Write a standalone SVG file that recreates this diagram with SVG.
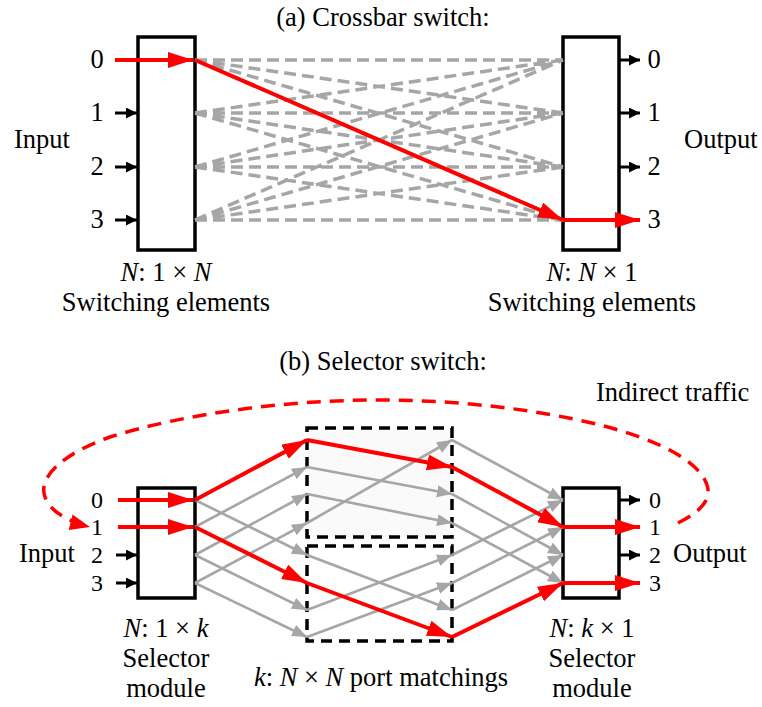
<svg xmlns="http://www.w3.org/2000/svg" width="762" height="707" viewBox="0 0 762 707">
<defs>
<style>
text{font-family:"Liberation Serif",Tinos,"Times New Roman","DejaVu Serif",serif;font-size:26.5px;fill:#000}
.c{text-anchor:middle}
.i{font-style:italic}
.p{font-size:24px}
.box{fill:#fff;stroke:#000;stroke-width:3.5}
.dbox{stroke:#000;stroke-width:3.5;stroke-dasharray:11 7}
.gd{stroke:#a6a6a6;stroke-width:3.5;stroke-dasharray:12 6;fill:none}
.g{stroke:#a6a6a6;stroke-width:2.6;fill:none;marker-end:url(#ag)}
.r{stroke:#f00;stroke-width:4;fill:none;marker-end:url(#ar)}
.k{stroke:#000;stroke-width:3;fill:none;marker-end:url(#ak)}
.rd{stroke:#f00;stroke-width:3.5;fill:none;stroke-dasharray:14 9;marker-end:url(#ar2)}
</style>
<marker id="ar" markerUnits="userSpaceOnUse" markerWidth="26" markerHeight="18" refX="25" refY="8" orient="auto"><path d="M0,0 L25,8 L0,16 z" fill="#f00"/></marker>
<marker id="ar2" markerUnits="userSpaceOnUse" markerWidth="24" markerHeight="18" refX="20" refY="8" orient="auto"><path d="M0,0 L20,8 L0,16 z" fill="#f00"/></marker>
<marker id="ag" markerUnits="userSpaceOnUse" markerWidth="17" markerHeight="13" refX="15" refY="6" orient="auto"><path d="M0,0 L15,6 L0,12 z" fill="#a6a6a6"/></marker>
<marker id="ak" markerUnits="userSpaceOnUse" markerWidth="14" markerHeight="12" refX="11" refY="5.5" orient="auto"><path d="M0,0 L11,5.5 L0,11 z" fill="#000"/></marker>
</defs>

<g font-family="Liberation Serif, Times New Roman, serif">
<text class="c" x="383" y="26">(a) Crossbar switch:</text>
<text class="c" x="383" y="370">(b) Selector switch:</text>

<g id="xbar-in">
<rect class="box" x="138" y="37" width="57" height="213"/>
<text class="c" x="166" y="281"><tspan class="i">N</tspan>: 1 × <tspan class="i">N</tspan></text>
<text class="c" x="166" y="311">Switching elements</text>
</g>
<g id="xbar-out">
<rect class="box" x="563" y="37" width="56" height="213"/>
<text class="c" x="592" y="281"><tspan class="i">N</tspan>: <tspan class="i">N</tspan> × 1</text>
<text class="c" x="592" y="311">Switching elements</text>
</g>
<g id="xbar-labels">
<text x="14" y="148">Input</text>
<text x="684" y="148">Output</text>
<text class="c" x="97" y="68">0</text>
<text class="c" x="97" y="121">1</text>
<text class="c" x="97" y="175">2</text>
<text class="c" x="97" y="228">3</text>
<text class="c" x="654" y="68">0</text>
<text class="c" x="654" y="121">1</text>
<text class="c" x="654" y="175">2</text>
<text class="c" x="654" y="228">3</text>
</g>

<g id="sel-in">
<rect class="box" x="138" y="488" width="57" height="110"/>
<text class="c" x="166" y="637"><tspan class="i">N</tspan>: 1 × <tspan class="i">k</tspan></text>
<text class="c" x="166" y="667">Selector</text>
<text class="c" x="166" y="697">module</text>
</g>
<g id="match-0">
<rect class="dbox" x="307" y="428" width="145" height="109" fill="#fafafa"/>
</g>
<g id="match-1">
<rect class="dbox" x="307" y="546" width="145" height="95" fill="none"/>
<text class="c" x="381" y="686"><tspan class="i">k</tspan>: <tspan class="i">N</tspan> × <tspan class="i">N</tspan> port matchings</text>
</g>
<g id="sel-out">
<rect class="box" x="563" y="488" width="56" height="110"/>
<text class="c" x="592" y="637"><tspan class="i">N</tspan>: <tspan class="i">k</tspan> × 1</text>
<text class="c" x="592" y="667">Selector</text>
<text class="c" x="592" y="697">module</text>
</g>
<g id="sel-labels">
<text x="19" y="562">Input</text>
<text x="673" y="562">Output</text>
<text x="596" y="401">Indirect traffic</text>
<text class="c p" x="97" y="508">0</text>
<text class="c p" x="97" y="535">1</text>
<text class="c p" x="97" y="563">2</text>
<text class="c p" x="97" y="591">3</text>
<text class="c p" x="655" y="508">0</text>
<text class="c p" x="655" y="535">1</text>
<text class="c p" x="655" y="563">2</text>
<text class="c p" x="655" y="591">3</text>
</g>
</g>

<g id="connectors">
<path class="gd" d="M195,60L563,60M195,60L563,113M195,60L563,167M195,60L563,220
M195,113L563,60M195,113L563,113M195,113L563,167M195,113L563,220
M195,167L563,60M195,167L563,113M195,167L563,167M195,167L563,220
M195,220L563,60M195,220L563,113M195,220L563,167M195,220L563,220"/>
<path class="k" d="M115,113H137"/>
<path class="k" d="M115,167H137"/>
<path class="k" d="M115,220H137"/>
<path class="k" d="M619,60H640"/>
<path class="k" d="M619,113H640"/>
<path class="k" d="M619,167H640"/>
<path class="r" d="M115,60H193"/>
<path class="r" d="M195,60L563,220"/>
<path class="r" d="M563,220H640"/>

<path class="g" d="M195,500L307,555"/>
<path class="g" d="M195,527L307,467"/>
<path class="g" d="M195,555L307,494"/>
<path class="g" d="M195,555L307,610"/>
<path class="g" d="M195,583L307,523"/>
<path class="g" d="M195,583L307,637"/>
<path class="g" d="M307,467L452,494"/>
<path class="g" d="M307,494L452,523"/>
<path class="g" d="M307,523L452,440"/>
<path class="g" d="M307,555L452,610"/>
<path class="g" d="M307,610L452,555"/>
<path class="g" d="M307,637L452,583"/>
<path class="g" d="M452,440L563,500"/>
<path class="g" d="M452,494L563,555"/>
<path class="g" d="M452,523L563,583"/>
<path class="g" d="M452,555L563,500"/>
<path class="g" d="M452,583L563,527"/>
<path class="g" d="M452,610L563,555"/>
<path class="k" d="M116,555H137"/>
<path class="k" d="M116,583H137"/>
<path class="k" d="M619,500H640"/>
<path class="k" d="M619,555H640"/>
<path class="r" d="M118,500H193"/>
<path class="r" d="M118,527H193"/>
<path class="r" d="M195,500L307,440"/>
<path class="r" d="M195,527L307,583"/>
<path class="r" d="M307,440L452,467"/>
<path class="r" d="M307,583L452,637"/>
<path class="r" d="M452,467L563,527"/>
<path class="r" d="M452,637L563,583"/>
<path class="r" d="M563,527H640"/>
<path class="r" d="M563,583H640"/>
<path class="rd" d="M678,523 C700,512 712,500 707,485 C700,462 660,440 600,425 C540,410 460,400 380,400 C280,400 180,415 110,437 C60,455 38,478 45,497 C50,512 70,522 90,527"/>
</g>
</svg>
